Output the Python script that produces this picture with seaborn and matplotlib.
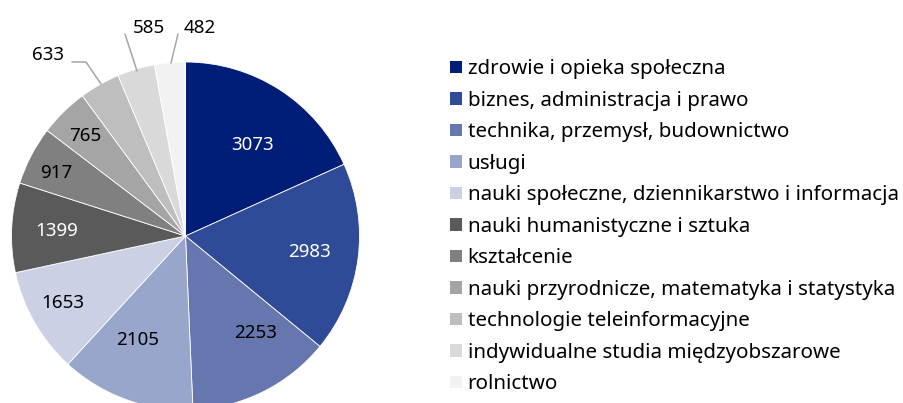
import matplotlib
matplotlib.use("Agg")
import matplotlib.pyplot as plt
import seaborn as sns
import numpy as np

categories = [
    "zdrowie i opieka społeczna",
    "biznes, administracja i prawo",
    "technika, przemysł, budownictwo",
    "usługi",
    "nauki społeczne, dziennikarstwo i informacja",
    "nauki humanistyczne i sztuka",
    "kształcenie",
    "nauki przyrodnicze, matematyka i statystyka",
    "technologie teleinformacyjne",
    "indywidualne studia międzyobszarowe",
    "rolnictwo",
]
values = [3073, 2983, 2253, 2105, 1653, 1399, 917, 765, 633, 585, 482]
colors = ["#001D77", "#2F4A97", "#6577AE", "#98A6CB", "#CBD0E5",
          "#5A5A5A", "#808080", "#A5A5A5", "#BEBEBE", "#D9D9D9", "#F2F2F2"]
label_colors = ["white", "white", "black", "black", "black",
                "white", "black", "black", "black", "black", "black"]

sns.set_theme(style="white")
plt.rcParams["font.family"] = ["Noto Sans", "DejaVu Sans"]
plt.rcParams["text.color"] = "black"

W, H = 904, 403
fig = plt.figure(figsize=(W / 100, H / 100), dpi=100)
cx, cy, R = 185.5, 236, 174
ax = fig.add_axes([(cx - R) / W, (H - cy - R) / H, 2 * R / W, 2 * R / H])

wedges, _ = ax.pie(values, colors=colors, startangle=90, counterclock=False,
                   radius=1, wedgeprops=dict(linewidth=0.6, edgecolor="white"))
ax.set_xlim(-1, 1)
ax.set_ylim(-1, 1)
ax.axis("off")
for w in wedges:
    w.set_clip_on(False)

# inside label radii (style)
inner_r = [0.66, 0.72, 0.68, 0.65, 0.80, 0.74, 0.83, 0.82]
inner_shift = [-3, 1, 10, -5, -2, 0, 1, 0]
for i, w in enumerate(wedges):
    mid = np.deg2rad((w.theta1 + w.theta2) / 2)
    if i < len(inner_r):
        a = mid + np.deg2rad(inner_shift[i])
        r = inner_r[i]
        ax.text(r * np.cos(a), r * np.sin(a) - 0.01, str(values[i]), ha="center", va="center",
                fontsize=13.5, color=label_colors[i])

# outside labels with leader lines (pixel offsets converted to data units)
def px(x, y):
    return ((x - cx) / R, (cy - y) / R)

outer = {
    8: dict(text=px(48, 55), pts=[px(72, 62), px(86, 62), px(101, 84)]),
    9: dict(text=px(149, 28), pts=[px(125, 34), px(137, 71)]),
    10: dict(text=px(200, 28), pts=[px(178, 34), px(171, 63)]),
}
for i, d in outer.items():
    xs, ys = zip(*d["pts"])
    ax.plot(xs, ys, color="#A6A6A6", lw=1.1, clip_on=False)
    ax.text(d["text"][0], d["text"][1], str(values[i]), ha="center", va="center",
            fontsize=13.5, color="black", clip_on=False)

leg = fig.legend(wedges, categories, loc="upper left",
                 bbox_to_anchor=(442 / W, 1 - 51 / H), frameon=False,
                 fontsize=14.8, handlelength=0.55, handleheight=0.55,
                 handletextpad=0.3, labelspacing=0.56, borderaxespad=0,
                 labelcolor="black")
for h in leg.legend_handles:
    h.set_edgecolor("none")

fig.savefig("out.png", dpi=100)
